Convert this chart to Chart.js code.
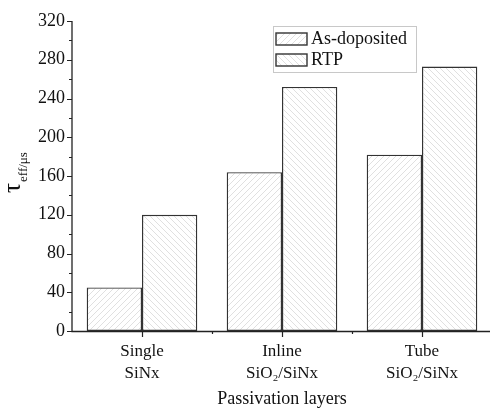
<!DOCTYPE html>
<html><head><meta charset="utf-8">
<script src="https://cdn.jsdelivr.net/npm/chart.js@4/dist/chart.umd.min.js"></script>
<style>html,body{margin:0;padding:0;background:#fff;overflow:hidden}#wrap{width:492px;height:408px}</style>
</head><body><div id="wrap"><canvas id="c" width="492" height="408"></canvas></div>
<script>
const categories = [["Single","SiNx"],["Inline","SiO\u2082/SiNx"],["Tube","SiO\u2082/SiNx"]];
const seriesNames = ["As-doposited","RTP"];
const asDeposited = [45, 164, 182];
const rtp = [120, 252, 273];
const yTicks = [0,40,80,120,160,200,240,280,320];
const FONT = "'Liberation Serif','Times New Roman',serif";

function hatch(dir){
  const s=6, c=document.createElement('canvas'); c.width=s; c.height=s;
  const g=c.getContext('2d'); g.fillStyle='#fff'; g.fillRect(0,0,s,s);
  g.strokeStyle='#dcdcdc'; g.lineWidth=0.9; g.beginPath();
  if(dir>0){ g.moveTo(0,s); g.lineTo(s,0); g.moveTo(-1,1); g.lineTo(1,-1); g.moveTo(s-1,s+1); g.lineTo(s+1,s-1);}
  else { g.moveTo(0,0); g.lineTo(s,s); g.moveTo(s-1,-1); g.lineTo(s+1,1); g.moveTo(-1,s-1); g.lineTo(1,s+1);}
  g.stroke();
  return g.createPattern(c,'repeat');
}
const pA = hatch(1), pR = hatch(-1);

const deco = {
  id:'deco',
  afterDraw(chart){
    const ctx=chart.ctx, y=chart.scales.y, x=chart.scales.x, a=chart.chartArea;
    ctx.save();
    ctx.strokeStyle='#222'; ctx.lineWidth=1.3;
    ctx.beginPath(); ctx.moveTo(a.left, a.top); ctx.lineTo(a.left, a.bottom+0.5); ctx.lineTo(chart.width, a.bottom+0.5); ctx.stroke();
    ctx.lineWidth=1.2; ctx.beginPath();
    for(let v=0; v<=320; v+=20){
      const py=Math.round(y.getPixelForValue(v))+0.5;
      const len = (v%40===0)?5:3;
      ctx.moveTo(a.left-len, py); ctx.lineTo(a.left, py);
    }
    for(let i=0;i<categories.length;i++){
      const px=Math.round(x.getPixelForValue(i))+0.5;
      ctx.moveTo(px, a.bottom); ctx.lineTo(px, a.bottom+6);
      const bx=Math.round(x.getPixelForValue(i)+ (x.getPixelForValue(1)-x.getPixelForValue(0))/2)+0.5;
      ctx.moveTo(bx, a.bottom); ctx.lineTo(bx, a.bottom+3);
    }
    ctx.stroke();
    // y title
    ctx.fillStyle='#111';
    ctx.translate(20,193); ctx.rotate(-Math.PI/2);
    ctx.font="25px "+FONT; ctx.textAlign='left'; ctx.textBaseline='alphabetic';
    ctx.fillText('\u03c4',0,0);
    const w=ctx.measureText('\u03c4').width;
    ctx.font="13px "+FONT;
    ctx.fillText('eff/\u03bcs', w+1, 7);
    ctx.restore();
    // legend
    ctx.save();
    ctx.strokeStyle='#c8c8c8'; ctx.lineWidth=1;
    ctx.strokeRect(273.5,26.5,143,46);
    const items=[[pA,33],[pR,54]];
    ctx.font="18px "+FONT; ctx.fillStyle='#111'; ctx.textBaseline='middle'; ctx.textAlign='left';
    items.forEach((it,i)=>{
      ctx.fillStyle=it[0]; ctx.fillRect(276,it[1],31,12);
      ctx.strokeStyle='#333'; ctx.lineWidth=1.4; ctx.strokeRect(276,it[1],31,12);
      ctx.fillStyle='#111'; ctx.fillText(seriesNames[i],311,it[1]+6.5);
    });
    ctx.restore();
  }
};

new Chart(document.getElementById('c'),{
  type:'bar',
  data:{labels:categories,datasets:[
    {label:seriesNames[0],data:asDeposited,backgroundColor:pA,borderColor:'#333',borderWidth:1.4,borderSkipped:false,barPercentage:1,categoryPercentage:0.79},
    {label:seriesNames[1],data:rtp,backgroundColor:pR,borderColor:'#333',borderWidth:1.4,borderSkipped:false,barPercentage:1,categoryPercentage:0.79}
  ]},
  options:{
    responsive:false,animation:false,
    layout:{padding:{top:21,right:0,left:0,bottom:0}},
    plugins:{legend:{display:false},tooltip:{enabled:false}},
    scales:{
      x:{
        grid:{display:false,drawTicks:false},border:{display:false},
        ticks:{font:{family:FONT,size:17,lineHeight:1.3},color:'#111',padding:9,maxRotation:0},
        title:{display:true,text:'Passivation layers',font:{family:FONT,size:18},color:'#111',padding:{top:4,bottom:-2}},
        afterFit(s){s.height=77;}
      },
      y:{
        min:0,max:320,
        grid:{display:false,drawTicks:false},border:{display:false},
        afterBuildTicks(s){s.ticks=yTicks.map(v=>({value:v}));},
        ticks:{font:{family:FONT,size:18},color:'#111',padding:7},
        afterFit(s){s.width=72;}
      }
    }
  },
  plugins:[deco]
});
</script></body></html>
